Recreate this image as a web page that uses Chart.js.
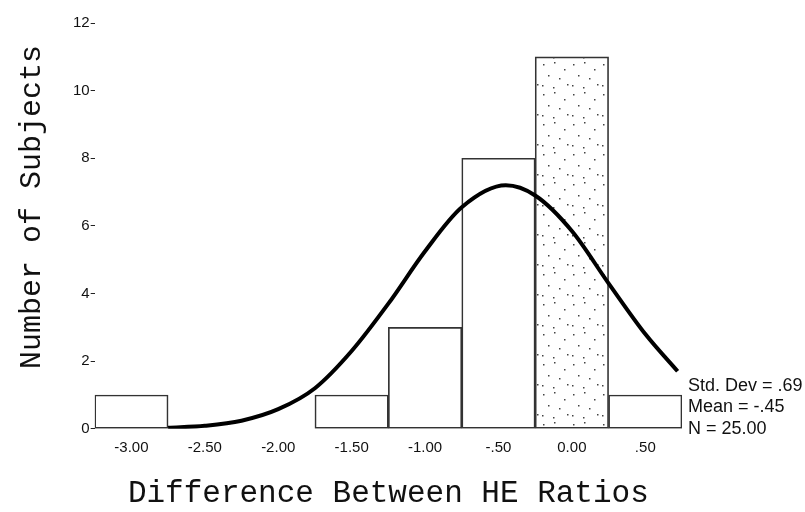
<!DOCTYPE html>
<html>
<head>
<meta charset="utf-8">
<script src="https://cdn.jsdelivr.net/npm/chart.js@4.4.1/dist/chart.umd.min.js"></script>
<style>
  html, body { margin: 0; padding: 0; background: #fff; }
  #wrap { width: 805px; height: 512px; }
</style>
</head>
<body>
<div id="wrap"><canvas id="histChart"></canvas></div>
<script>
// histogram bins (bin centres) and counts
const binCenters = [-3.0, -2.5, -2.0, -1.5, -1.0, -0.5, 0.0, 0.5];
const binCounts = [1, 0, 0, 1, 3, 8, 11, 1];
const xTickLabels = ["-3.00", "-2.50", "-2.00", "-1.50", "-1.00", "-.50", "0.00", ".50"];
const yTicks = [0, 2, 4, 6, 8, 10, 12];

// normal curve
const curveX = [-2.75, -2.5, -2.25, -2.0, -1.75, -1.5, -1.25, -1.0, -0.75, -0.45, -0.25, 0.0, 0.25, 0.5, 0.72];
const curveY = [0.03, 0.09, 0.24, 0.58, 1.2, 2.3, 3.7, 5.25, 6.55, 7.2, 6.9, 5.85, 4.3, 2.8, 1.7];

const statLines = ["Std. Dev = .69", "Mean = -.45", "N = 25.00"];
const yTitle = "Number of Subjects";

// stippled fill for the highlighted bin
function makeStipple() {
  const c = document.createElement("canvas");
  c.width = 30;
  c.height = 30;
  const g = c.getContext("2d");
  g.fillStyle = "#444";
  const dots = [[3, 4], [14, 2], [24, 9], [8, 15], [19, 18], [27, 24], [2, 25], [13, 27]];
  dots.forEach(function (d) {
    g.fillRect(d[0], d[1], 1.5, 1.5);
  });
  return g.createPattern(c, "repeat");
}

const stipple = makeStipple();
const barFills = binCenters.map(function (v) {
  return v === 0 ? stipple : "rgba(255,255,255,0)";
});

// stats box on the right and the y title (sits a bit above centre in the original)
const extraText = {
  id: "extraText",
  afterDraw(chart) {
    const ctx = chart.ctx;
    const area = chart.chartArea;
    ctx.save();
    ctx.fillStyle = "#111";
    ctx.font = "18px 'Liberation Sans', Arial, sans-serif";
    ctx.textBaseline = "middle";
    ctx.textAlign = "left";
    statLines.forEach(function (t, i) {
      ctx.fillText(t, area.right + 6, area.bottom - 43 + i * 21.5);
    });

    ctx.translate(32, area.top + 184);
    ctx.rotate(-Math.PI / 2);
    ctx.textAlign = "center";
    ctx.font = "30px 'Liberation Mono', 'Courier New', monospace";
    ctx.fillText(yTitle, 0, 0);
    ctx.restore();
  },
};

new Chart(document.getElementById("histChart"), {
  type: "bar",
  data: {
    datasets: [
      {
        type: "line",
        data: curveX.map(function (x, i) { return { x: x, y: curveY[i] }; }),
        borderColor: "#000",
        borderWidth: 4,
        pointRadius: 0,
        cubicInterpolationMode: "monotone",
        fill: false,
        order: 0,
      },
      {
        type: "bar",
        data: binCenters.map(function (x, i) { return { x: x, y: binCounts[i] }; }),
        backgroundColor: barFills,
        borderColor: "#333",
        borderWidth: 1,
        borderSkipped: false,
        barPercentage: 1,
        categoryPercentage: 1,
        order: 1,
      },
    ],
  },
  options: {
    responsive: true,
    maintainAspectRatio: false,
    animation: false,
    layout: { padding: { left: 72, right: 123, top: 23, bottom: 0 } },
    plugins: {
      legend: { display: false },
      tooltip: { enabled: false },
    },
    scales: {
      x: {
        type: "linear",
        min: -3.25,
        max: 0.75,
        offset: false,
        grid: { display: false, drawTicks: false },
        border: { display: false },
        afterBuildTicks: function (scale) {
          scale.ticks = binCenters.map(function (v) { return { value: v }; });
        },
        ticks: {
          autoSkip: false,
          maxRotation: 0,
          padding: 10,
          color: "#111",
          font: { family: "'Liberation Sans', Arial, sans-serif", size: 15 },
          callback: function (value, index) {
            return xTickLabels[index];
          },
        },
        title: {
          display: true,
          text: "Difference Between HE Ratios",
          color: "#111",
          font: { family: "'Liberation Mono', 'Courier New', monospace", size: 31 },
          padding: { top: 8, bottom: 0 },
        },
      },
      y: {
        type: "linear",
        min: 0,
        max: 12,
        afterBuildTicks: function (scale) {
          scale.ticks = yTicks.map(function (v) { return { value: v }; });
        },
        grid: {
          display: true,
          drawOnChartArea: false,
          drawTicks: true,
          tickLength: 4,
          tickColor: "#222",
        },
        border: { display: false },
        ticks: {
          padding: 1,
          color: "#111",
          font: { family: "'Liberation Sans', Arial, sans-serif", size: 15 },
        },
        title: { display: false },
      },
    },
  },
  plugins: [extraText],
});
</script>
</body>
</html>
